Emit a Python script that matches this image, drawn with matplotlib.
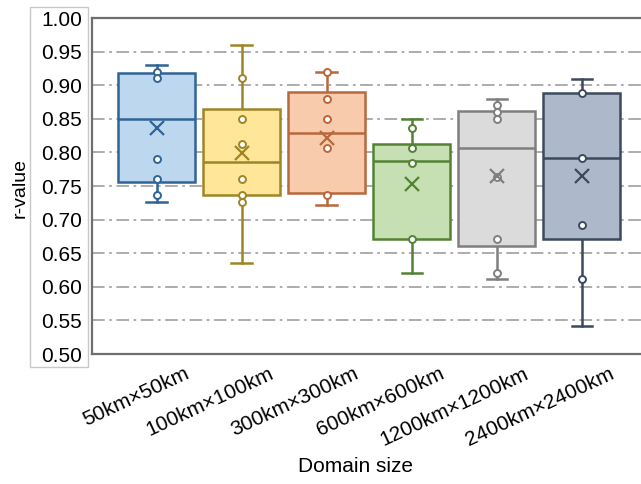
import matplotlib
matplotlib.use('Agg')
import matplotlib.pyplot as plt
import matplotlib.transforms as mtransforms
from matplotlib.patches import Rectangle

plt.rcParams['font.family'] = ['Liberation Sans', 'DejaVu Sans']

# data
labels = ['50km×50km', '100km×100km', '300km×300km',
          '600km×600km', '1200km×1200km', '2400km×2400km']
q1 = [0.756, 0.736, 0.739, 0.671, 0.660, 0.671]
q3 = [0.918, 0.864, 0.890, 0.813, 0.862, 0.889]
med = [0.850, 0.786, 0.829, 0.787, 0.806, 0.791]
mean = [0.837, 0.799, 0.822, 0.753, 0.765, 0.765]
whislo = [0.726, 0.635, 0.722, 0.621, 0.611, 0.541]
whishi = [0.930, 0.960, 0.919, 0.849, 0.879, 0.909]
inner_points = [
    [0.919, 0.910, 0.790, 0.761, 0.737],
    [0.910, 0.850, 0.813, 0.761, 0.737, 0.726],
    [0.919, 0.880, 0.850, 0.807, 0.737],
    [0.836, 0.806, 0.784, 0.671],
    [0.870, 0.860, 0.850, 0.764, 0.671, 0.621],
    [0.888, 0.791, 0.692, 0.611],
]

fills = ['#bdd7ee', '#ffe699', '#f8cbad', '#c6e0b4', '#dbdbdb', '#adb9ca']
edges = ['#2f6496', '#9e8527', '#b8683c', '#548235', '#7f7f7f', '#3b4a5e']

fig = plt.figure(figsize=(6.41, 4.84), dpi=100)

# box around the y tick labels
fig.patches.append(Rectangle((30 / 641, 1 - 367 / 484), 58 / 641, 360 / 484,
                             transform=fig.transFigure, facecolor='white',
                             edgecolor='#c8c8c8', lw=1.0, zorder=-1))

ax = fig.add_axes([92 / 641, 1 - 354 / 484, 555 / 641, 336 / 484])

stats = []
for i in range(len(labels)):
    stats.append(dict(q1=q1[i], q3=q3[i], med=med[i], mean=mean[i],
                      whislo=whislo[i], whishi=whishi[i], fliers=[]))

pos = list(range(len(labels)))
bp = ax.bxp(stats, positions=pos, widths=0.9, capwidths=0.24,
            patch_artist=True, showmeans=False, showfliers=False)

for i in range(len(labels)):
    c = edges[i]
    bp['boxes'][i].set(facecolor=fills[i], edgecolor=c, lw=1.8, zorder=3)
    bp['medians'][i].set(color=c, lw=1.8, zorder=4)
    for w in bp['whiskers'][2 * i:2 * i + 2]:
        w.set(color=c, lw=1.8, zorder=2)
    for cap in bp['caps'][2 * i:2 * i + 2]:
        cap.set(color=c, lw=1.8, zorder=2)
    ax.plot([i] * len(inner_points[i]), inner_points[i], 'o', ms=5,
            mfc='white', mec=c, mew=1.4, zorder=5)
    ax.plot([i], [mean[i]], 'x', ms=10, mec=c, mew=1.6, zorder=5)

ax.set_ylim(0.5, 1.0)
ax.set_xlim(-0.761, 5.768)
ax.set_yticks([0.5 + 0.05 * k for k in range(11)])
ax.set_yticklabels(['%.2f' % (0.5 + 0.05 * k) for k in range(11)], fontsize=15)
ax.yaxis.grid(True, color='#a6a6a6', lw=1.3, linestyle=(0, (7, 2.5, 1.5, 2.5)))
ax.set_axisbelow(True)
ax.tick_params(axis='y', length=0, pad=7)
ax.tick_params(axis='x', length=0, pad=7)

ax.set_xticks(pos)
ax.set_xticklabels(labels, fontsize=15, rotation=25, ha='right',
                   rotation_mode='anchor')
offset = mtransforms.ScaledTranslation(0.27, 0.0, fig.dpi_scale_trans)
for lab in ax.get_xticklabels():
    lab.set_transform(lab.get_transform() + offset)

for s in ax.spines.values():
    s.set_color('#6e6e6e')
    s.set_linewidth(1.6)

fig.text(356 / 641, 1 - 467 / 484, 'Domain size', fontsize=15,
         ha='center', va='center')
fig.text(20 / 641, 1 - 188 / 484, 'r-value', fontsize=14, rotation=90,
         ha='center', va='center')

fig.savefig('out.png', dpi=100)
